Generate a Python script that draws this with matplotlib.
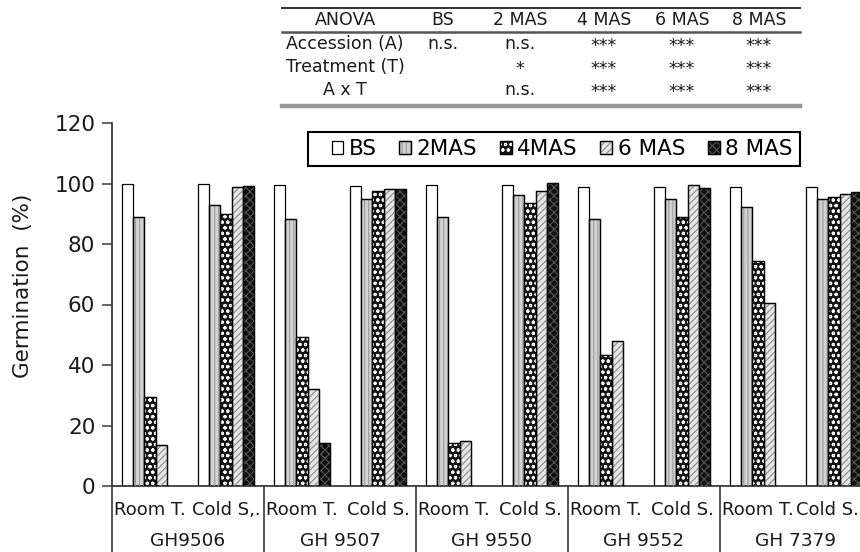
import numpy as np
import matplotlib
matplotlib.use("Agg")
import matplotlib.pyplot as plt
from matplotlib.patches import Rectangle, Patch
from matplotlib.lines import Line2D
from matplotlib.legend_handler import HandlerTuple

# ---------------- data ----------------
categories = ["Room T.", "Cold S,.", "Room T.", "Cold S.", "Room T.", "Cold S.",
              "Room T.", "Cold S.", "Room T.", "Cold S."]
accessions = ["GH9506", "GH 9507", "GH 9550", "GH 9552", "GH 7379"]
series_names = ["BS", "2MAS", "4MAS", "6 MAS", "8 MAS"]

bs   = [99.8, 99.8, 99.5, 99.2, 99.5, 99.5, 98.7, 98.7, 98.7, 98.7]
mas2 = [88.8, 93.0, 88.2, 94.9, 88.8, 96.2, 88.2, 94.9, 92.1, 94.9]
mas4 = [29.5, 89.8, 49.2, 97.6, 14.3, 93.7, 43.3, 89.0, 74.4, 95.6]
mas6 = [13.5, 98.9, 32.2, 98.3, 14.9, 97.5, 48.0, 99.5, 60.6, 96.4]
mas8 = [np.nan, 99.2, 14.3, 98.3, np.nan, 100.2, np.nan, 98.4, np.nan, 97.1]

yticks = [0, 20, 40, 60, 80, 100, 120]

anova_header = ["ANOVA", "BS", "2 MAS", "4 MAS", "6 MAS", "8 MAS"]
anova_rows = ["Accession (A)", "Treatment (T)", "A x T"]
anova_sig = [["n.s.", "n.s.", "***", "***", "***"],
             ["", "*", "***", "***", "***"],
             ["", "n.s.", "***", "***", "***"]]

# ---------------- styles ----------------
styles = [
    dict(fc="white", hatch=None, hc=None),
    dict(fc="#d2d2d2", hatch="||||", hc="#9a9a9a"),
    dict(fc="#151515", hatch="ooo", hc="white"),
    dict(fc="#e6e6e6", hatch="/////", hc="#8a8a8a"),
    dict(fc="#101010", hatch="xxxx", hc="#555555"),
]

plt.rcParams["hatch.linewidth"] = 0.8
plt.rcParams["font.family"] = ["DejaVu Sans"]

W, H = 860, 552
fig = plt.figure(figsize=(W / 100, H / 100), dpi=100)

def fx(x):
    return x / W

def fy(y):
    return 1 - y / H

ax_left, ax_right, ax_top, ax_bot = 112, 860, 123, 486
ax = fig.add_axes([fx(ax_left), fy(ax_bot), fx(ax_right - ax_left), (ax_bot - ax_top) / H])

cat_px = 76.0
ax.set_xlim(-0.5, -0.5 + (ax_right - ax_left) / cat_px)
ax.set_ylim(0, 120)

x = np.arange(len(categories))
bw = 0.145
all_series = [bs, mas2, mas4, mas6, mas8]
handles = []
for i, (vals, st) in enumerate(zip(all_series, styles)):
    xs = x + (i - 2) * bw
    ax.bar(xs, vals, width=bw, color=st["fc"], edgecolor="black", linewidth=0.9, zorder=2)
    base = Patch(facecolor=st["fc"], edgecolor="black", linewidth=0.9)
    if st["hatch"]:
        ax.bar(xs, vals, width=bw, fill=False, edgecolor=st["hc"], hatch=st["hatch"],
               linewidth=0, zorder=3)
        ax.bar(xs, vals, width=bw, fill=False, edgecolor="black", linewidth=0.9, zorder=4)
        hp = Patch(fill=False, edgecolor=st["hc"], hatch=st["hatch"], linewidth=0)
        outline = Patch(fill=False, edgecolor="black", linewidth=0.9)
        handles.append((base, hp, outline))
    else:
        handles.append((base,))

# axes styling
for s in ["top", "right"]:
    ax.spines[s].set_visible(False)
ax.spines["left"].set_color("#3a3a3a")
ax.spines["bottom"].set_color("#3a3a3a")
ax.spines["left"].set_linewidth(1.3)
ax.spines["bottom"].set_linewidth(1.3)
ax.set_yticks(yticks)
ax.tick_params(axis="y", direction="out", length=7, width=1.1, color="#3a3a3a",
               labelsize=15.5, pad=5, labelcolor="#1a1a1a")
ax.set_xticks([])
ax.tick_params(axis="x", length=0)

fig.text(fx(23), fy(286), "Germination  (%)", rotation=90,
         ha="center", va="center", fontsize=15.5, color="#1a1a1a")

# multi-level category axis
xt = ax.get_xaxis_transform()
for b in [-0.5, 1.5, 3.5, 5.5, 7.5]:
    ax.plot([b, b], [0, -0.2], transform=xt, clip_on=False, color="#3a3a3a", lw=1.2)
y_cat = (ax_bot - 510) / (ax_bot - ax_top)
y_grp = (ax_bot - 541) / (ax_bot - ax_top)
cat_fs = 13.0
for i, c in enumerate(categories):
    if i == len(categories) - 1:
        ax.text(fx(859), fy(510), c, transform=fig.transFigure, ha="right", va="center",
                fontsize=cat_fs, color="#1a1a1a")
    else:
        ax.text(i, y_cat, c, transform=xt, ha="center", va="center", fontsize=cat_fs,
                color="#1a1a1a", clip_on=False)
for j, a in enumerate(accessions):
    ax.text(2 * j + 0.5, y_grp, a, transform=xt, ha="center", va="center", fontsize=13.3,
            color="#1a1a1a", clip_on=False)

# legend
fig.add_artist(Rectangle((fx(308), fy(166)), fx(800 - 308), (166 - 132) / H,
                         transform=fig.transFigure, facecolor="white", edgecolor="black",
                         linewidth=1.5, zorder=5))
leg = fig.legend(handles, series_names, loc="center", bbox_to_anchor=(fx(562), fy(149)),
                 ncol=5, frameon=False, fontsize=15.5, handlelength=0.55, handleheight=0.55,
                 handletextpad=0.25, columnspacing=1.05, borderpad=0.1,
                 handler_map={tuple: HandlerTuple(ndivide=1, pad=0)})
leg.set_zorder(6)

# ANOVA table
tab_fs = 12.5
fig.add_artist(Line2D([fx(282), fx(800)], [fy(8), fy(8)], color="#333333", lw=1.4))
fig.add_artist(Line2D([fx(282), fx(800)], [fy(32), fy(32)], color="#555555", lw=1.8))
fig.add_artist(Line2D([fx(282), fx(800)], [fy(106), fy(106)], color="#999999", lw=3.2))
col_x = [345, 443, 520, 604, 682, 759]
row_y = [44, 67, 90]
for cx, h in zip(col_x, anova_header):
    fig.text(fx(cx), fy(20), h, ha="center", va="center", fontsize=tab_fs, color="#1a1a1a")
for ry, rname, sig in zip(row_y, anova_rows, anova_sig):
    fig.text(fx(col_x[0]), fy(ry), rname, ha="center", va="center", fontsize=tab_fs,
             color="#1a1a1a")
    for cx, s in zip(col_x[1:], sig):
        if s:
            yy = ry + 2 if "*" in s else ry
            fig.text(fx(cx), fy(yy), s, ha="center", va="center", fontsize=tab_fs,
                     color="#1a1a1a")

fig.savefig("out.png", dpi=100)
